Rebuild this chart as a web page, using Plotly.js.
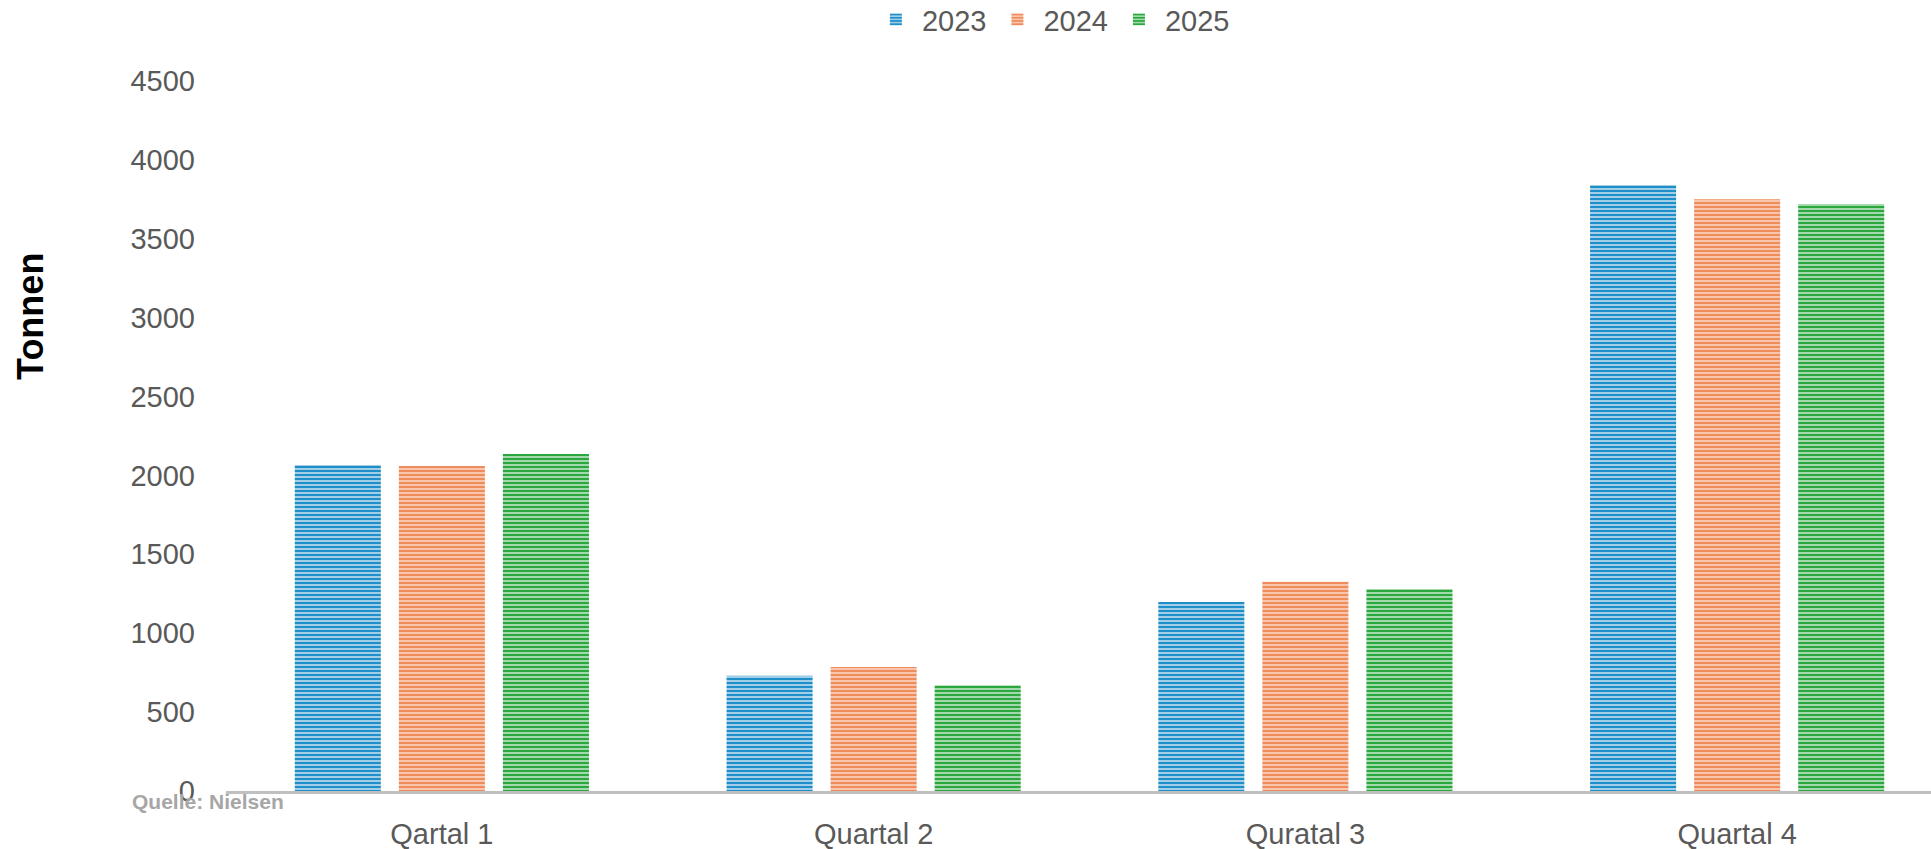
<!DOCTYPE html>
<html>
<head>
<meta charset="utf-8">
<script src="https://cdn.plot.ly/plotly-3.0.1.min.js"></script>
<style>html,body{margin:0;padding:0;background:#fff;}#chart{width:1931px;height:849px;}</style>
</head>
<body>
<div id="chart"></div>
<script>
const categories = ["Qartal 1", "Quartal 2", "Quratal 3", "Quartal 4"];
const seriesNames = ["2023", "2024", "2025"];
const values2023 = [2066, 731, 1198, 3841];
const values2024 = [2060, 786, 1327, 3750];
const values2025 = [2136, 670, 1280, 3720];
const yTicks = [0, 500, 1000, 1500, 2000, 2500, 3000, 3500, 4000, 4500];

const fgColors = ["#1E8FC9", "#F08C5C", "#2AA83E"];
const bgColors = ["#C3DFEF", "#FAD5C0", "#C2E6C8"];
const allValues = [values2023, values2024, values2025];

const traces = allValues.map((vals, i) => ({
  type: "bar",
  name: seriesNames[i],
  x: categories,
  y: vals,
  marker: {
    color: bgColors[i],
    line: {width: 0},
    pattern: {shape: "-", size: 4, solidity: 0.6, fgcolor: fgColors[i], bgcolor: bgColors[i], fillmode: "replace"}
  },
  hoverinfo: "x+y+name"
}));

const layout = {
  width: 1931,
  height: 849,
  margin: {l: 226, r: 0, t: 81, b: 58, pad: 0},
  paper_bgcolor: "#ffffff",
  plot_bgcolor: "#ffffff",
  font: {family: "Liberation Sans, Arial, sans-serif", color: "#595959", size: 29},
  barmode: "group",
  bargap: 0.277,
  bargroupgap: 0.173,
  showlegend: true,
  legend: {
    orientation: "h", x: 0.545, xref: "container", xanchor: "center",
    y: 0.977, yref: "container", yanchor: "middle",
    font: {size: 29, color: "#595959"},
    itemwidth: 42, tracegroupgap: 0
  },
  xaxis: {
    type: "category",
    range: [-0.5, 3.449],
    showline: true, linecolor: "#C0C0C0", linewidth: 2.5,
    showgrid: false, zeroline: false,
    ticks: "", ticklabelstandoff: 16,
    tickfont: {size: 29, color: "#595959"},
    fixedrange: true
  },
  yaxis: {
    range: [0, 4500],
    tickvals: yTicks,
    ticktext: yTicks.map(String),
    showgrid: false, zeroline: false, showline: false,
    ticks: "", ticklabelstandoff: 30,
    tickfont: {size: 29, color: "#595959"},
    fixedrange: true
  },
  annotations: [
    {
      text: "<b>Tonnen</b>", textangle: -90,
      xref: "paper", yref: "paper", x: -0.115, y: 0.669,
      xanchor: "center", yanchor: "middle", showarrow: false,
      font: {size: 36, color: "#000000", family: "Liberation Sans, Arial, sans-serif"}
    },
    {
      text: "<b>Quelle: Nielsen</b>",
      xref: "paper", yref: "paper", x: -0.0565, y: -0.015,
      xanchor: "left", yanchor: "middle", showarrow: false,
      font: {size: 21, color: "#A6A6A6", family: "Liberation Sans, Arial, sans-serif"}
    }
  ]
};

Plotly.newPlot("chart", traces, layout, {displayModeBar: false, staticPlot: true});
</script>
</body>
</html>
